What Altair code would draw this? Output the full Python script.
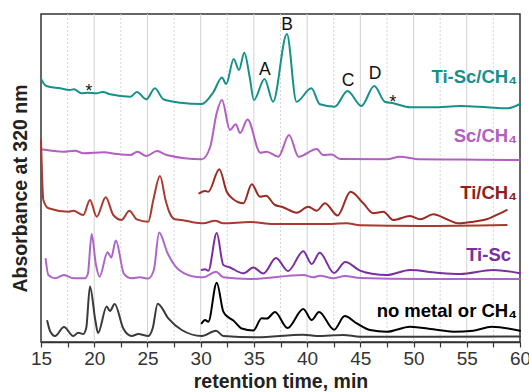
import altair as alt
import pandas as pd

# ---------------- data (retention time in min, absorbance in arbitrary offset units) -------------
teal_t = [15.0, 15.5, 16.8, 17.7, 18.1, 18.8, 19.4, 20.2, 20.8, 21.5, 23.4, 24.0, 24.9, 25.7, 26.5,
          28.1, 30.1, 31.2, 32.0, 32.4, 33.1, 33.6, 34.1, 34.6, 35.0, 36.0, 36.8, 38.1, 39.0, 40.4,
          41.2, 42.6, 43.8, 45.1, 46.3, 47.3, 48.1, 49.7, 51.8, 54.4, 56.9, 58.8, 60.0]
teal_v = [263, 256, 253.7, 252, 252.7, 248.7, 249.3, 248.7, 250, 247.7, 245.3, 250, 242.7, 253.7, 242.7,
          239.3, 238, 250, 264.5, 258, 283, 272, 289.3, 265.3, 242, 263, 240.3, 308, 240.3, 253.7,
          237.7, 235.3, 251, 236, 256, 240.3, 238.7, 234.7, 234.7, 236, 234.7, 233.7, 238]

mag_t = [15.0, 17.1, 18.2, 19.0, 20.9, 22.1, 23.4, 24.05, 24.9, 25.9, 26.8, 30.1, 30.9, 31.5, 32.0,
         32.75, 33.3, 33.7, 34.4, 35.6, 36.2, 37.3, 38.3, 39.2, 40.9, 41.5, 42.3, 43.1, 47.5, 48.7,
         50.6, 54.4, 60.0]
mag_v = [192.7, 190.3, 191.3, 188.7, 189.7, 188, 187, 190.3, 186, 191, 187, 182.7, 195.3, 228.7, 242,
         212, 217.7, 209, 222.5, 189.3, 190.3, 185.3, 207, 185.3, 193, 187, 187.5, 183, 182.7, 185.3,
         182.7, 182.5, 182]

redthin_t = [15.0, 15.22, 15.7, 17.56, 18.03, 18.97, 19.6, 20.23, 21.08, 21.79, 22.58, 23.3, 23.99,
             25.08, 25.55, 26.18, 26.7, 27.05, 27.59, 28.22, 29.16, 30.25, 31.35, 32.13, 34.64, 36.82,
             41.52, 43.72, 44.97, 50.61, 58.75]
redthin_v = [202, 142, 133.7, 130.3, 131.3, 127, 142, 125.3, 144.7, 127, 122, 131.3, 122.7,
             120.3, 142, 166, 142, 130, 122.7, 122, 120, 118.7, 121.3, 118.7, 120, 118,
             118, 118.7, 116.7, 116, 117]

redthick_t = [29.87, 30.41, 30.72, 31.75, 32.45, 33.07, 34.01, 34.80, 35.57, 36.14, 36.98, 37.61,
              39.02, 40.11, 40.90, 41.68, 42.86, 44.08, 45.28, 46.22, 47.16, 48.10, 49.67, 50.61,
              51.86, 53.12, 54.21, 55.62, 56.87, 58.12, 58.75]
redthick_v = [148.7, 151, 150.3, 172.7, 150.3, 142.7, 138.7, 157.7, 145.3, 146.3, 137, 135.3,
              129.3, 135.3, 131.3, 138.7, 126.5, 150.3, 138.7, 128.7, 130.3, 122, 126, 122.7,
              127.7, 122.7, 118.7, 120.3, 122.7, 128.7, 132]

tiscthin_t = [15.44, 15.69, 16.32, 17.16, 18.03, 19.13, 19.4, 19.76, 20.15, 20.5, 21.25, 21.6, 22.03,
              22.8, 23.52, 24.3, 25.08, 25.6, 26.1, 26.88, 27.97, 29.66, 30.25, 31.44, 32.13, 34.64,
              39.64, 40.58, 41.21, 42.46, 43.56, 44.97, 50.61, 60.0]
tiscthin_v = [83, 67, 63.7, 67, 63.7, 63.7, 68, 108, 78, 65.3, 89.7, 84.5, 101.5,
              68, 63.7, 64.7, 63.5, 72, 109.5, 89, 72, 65, 64.7, 70.3, 64.7, 63,
              67, 64.7, 66.3, 63.7, 66, 64, 63, 63]

tiscthick_t = [30.1, 30.41, 30.72, 31.51, 32.13, 32.76, 34.01, 34.95, 35.89, 37.08, 38.21, 39.64,
               40.43, 41.18, 42.53, 43.59, 44.97, 46.22, 47.48, 49.67, 52.18, 54.37, 57.49, 60.0]
tiscthick_v = [72, 72.7, 71.3, 109, 77, 74.5, 68.7, 74.5, 68.5, 84, 71, 90.7,
               78, 89.3, 69, 80, 71.3, 68, 67, 72, 69.3, 68, 72, 68.7]

nmthin_t = [15.59, 15.85, 16.32, 17.16, 18.03, 18.5, 18.97, 19.25, 19.6, 20.1, 20.36, 21.17, 21.48,
            21.92, 22.73, 23.52, 24.14, 25.08, 25.5, 25.96, 26.96, 28.22, 30.1, 31.44, 32.13, 35.27,
            39.64, 40.9, 43.4, 44.97, 60.0]
nmthin_v = [21, 11, 6, 15, 6, 9.3, 8, 14, 55.5, 22, 9, 35.5, 31,
            38, 13.5, 6, 8, 6, 14, 38.3, 23.7, 12, 6, 11.3, 6, 4.7,
            7.3, 6, 7, 5.3, 5.5]

nmthick_t = [30.1, 30.41, 30.72, 31.51, 32.13, 32.6, 33.07, 33.86, 34.95, 35.73, 36.23, 36.98, 38.16,
             39.64, 40.43, 41.12, 42.53, 43.53, 44.66, 45.91, 47.48, 49.67, 51.86, 53.74, 55.62,
             57.34, 60.0]
nmthick_v = [18.7, 22, 20.3, 59.3, 30.3, 24.7, 21.5, 13.5, 11.5, 23.7, 23.5, 30, 14,
             33, 22, 30, 12.3, 26, 18.7, 12, 10.3, 15.3, 12.7, 10.3, 11.3,
             15.3, 11.3]

series_names = ["Ti-Sc/CH4", "Sc/CH4", "Ti/CH4 full", "Ti/CH4 zoom", "Ti-Sc full", "Ti-Sc zoom",
                "none full", "none zoom"]
series_data = [(teal_t, teal_v), (mag_t, mag_v), (redthin_t, redthin_v), (redthick_t, redthick_v),
               (tiscthin_t, tiscthin_v), (tiscthick_t, tiscthick_v), (nmthin_t, nmthin_v),
               (nmthick_t, nmthick_v)]
series_colors = ["#16918a", "#b35fc2", "#a83a30", "#9a2a22", "#ac66c8", "#7b2e9f", "#3a3a3a", "#000000"]
series_widths = [2, 2, 0.9, 1.8, 0.9, 2, 0.9, 2]

major_grid = [20, 25, 30, 35, 40, 45, 50, 55]
minor_grid = [17.5, 22.5, 27.5, 32.5, 37.5, 42.5, 47.5, 52.5, 57.5]
tick_values = [15, 17.5, 20, 22.5, 25, 27.5, 30, 32.5, 35, 37.5, 40, 42.5, 45, 47.5, 50, 52.5, 55, 57.5, 60]

label_text = ["Ti-Sc/CH₄", "Sc/CH₄", "Ti/CH₄", "Ti-Sc", "no metal or CH₄"]
label_t = [59.72, 59.72, 59.72, 59.16, 59.72]
label_v = [259, 200, 143, 81, 25]
label_colors = ["#16918a", "#b35fc2", "#8e1f1a", "#7b2e9f", "#000000"]

peak_text = ["A", "B", "C", "D", "*", "*"]
peak_t = [36.04, 38.11, 43.84, 46.38, 19.51, 48.07]
peak_v = [267, 312, 256, 263, 245, 234]

# ---------------- build tables ----------------
rows = []
for name, (ts, vs) in zip(series_names, series_data):
    for i, (t, v) in enumerate(zip(ts, vs)):
        rows.append({"series": name, "t": t, "v": v, "i": i})
df = pd.DataFrame(rows)
grid_major_df = pd.DataFrame({"t": major_grid})
grid_minor_df = pd.DataFrame({"t": minor_grid})
lab_df = pd.DataFrame({"label": label_text, "t": label_t, "v": label_v, "c": label_colors})
peak_df = pd.DataFrame({"label": peak_text, "t": peak_t, "v": peak_v})

FONT = "Liberation Sans"

x_axis = alt.Axis(values=tick_values, labelExpr="datum.value % 5 === 0 ? datum.label : ''",
                  title="retention time, min", titleFontSize=19.5, titleFontWeight="bold",
                  titleFont=FONT, titleColor="#222", titleY=45, titleBaseline="alphabetic",
                  labelFont=FONT, labelFontSize=19, labelColor="#333", labelPadding=2,
                  labelFlush=False, labelOverlap=False, tickSize=5, tickColor="#333",
                  tickWidth=1.2, domainColor="#333", domainWidth=1.5, grid=False)
y_axis = alt.Axis(title="Absorbance at 320 nm", titleFontSize=19.5, titleFontWeight="bold",
                  titleFont=FONT, titleColor="#222", labels=False, ticks=False, domain=False,
                  grid=False, titleX=-21, titleY=174, titleBaseline="middle", titleAngle=270)

xs = alt.Scale(domain=[15, 60], nice=False, zero=False)
ys = alt.Scale(domain=[0, 328], nice=False, zero=False)


def X():
    return alt.X("t:Q", scale=xs, axis=x_axis)


def Y():
    return alt.Y("v:Q", scale=ys, axis=y_axis)


grid_major = alt.Chart(grid_major_df).mark_rule(color="#d2d2d2", strokeWidth=1).encode(x=X())
grid_minor = alt.Chart(grid_minor_df).mark_rule(color="#d6d6d6", strokeWidth=1,
                                                strokeDash=[2, 2]).encode(x=X())

lines = alt.Chart(df).mark_line(interpolate="monotone", strokeJoin="round", strokeCap="round").encode(
    x=X(), y=Y(),
    color=alt.Color("series:N", scale=alt.Scale(domain=series_names, range=series_colors), legend=None),
    strokeWidth=alt.StrokeWidth("series:N", scale=alt.Scale(domain=series_names, range=series_widths),
                                legend=None),
    detail="series:N",
    order="i:Q",
)

labels = alt.Chart(lab_df).mark_text(font=FONT, fontSize=18.5, fontWeight="bold", align="right",
                                     baseline="alphabetic").encode(
    x=X(), y=Y(), text="label:N", color=alt.Color("c:N", scale=None))

peaks = alt.Chart(peak_df).mark_text(font=FONT, fontSize=17.5, align="center", baseline="alphabetic",
                                     color="#111").encode(x=X(), y=Y(), text="label:N")

chart = alt.layer(grid_minor, grid_major, lines, labels, peaks).properties(
    width=479, height=328, autosize="none",
    padding={"left": 41, "top": 14, "right": 9, "bottom": 50},
).configure_view(stroke="#333", strokeWidth=1.5)

chart.save("out.html", embed_options={"renderer": "svg", "actions": False})
